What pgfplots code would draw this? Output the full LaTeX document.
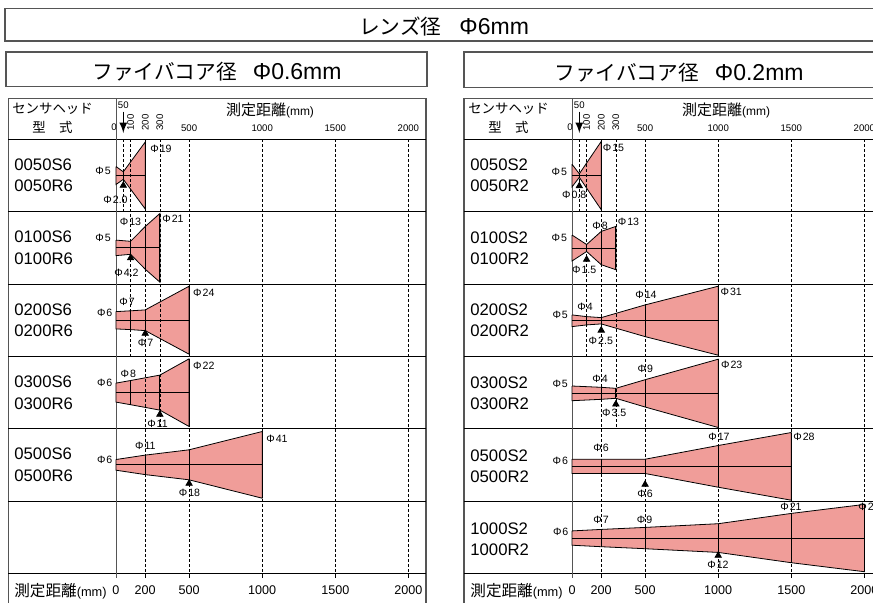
\documentclass[border=0pt]{standalone}
\usepackage{pgfplots}
\pgfplotsset{compat=1.18}
\usepackage{fontspec}
\setmainfont{Liberation Sans}
\newfontfamily\jp{Noto Sans CJK JP}
\definecolor{beam}{RGB}{240,157,153}
\definecolor{framegray}{RGB}{85,85,85}
\newcommand\fs[1]{\fontsize{#1}{#1}\selectfont}
\newcommand\phd[1]{Φ\kern0.5pt#1}

\pgfplotsset{
  panel/.style={at={(0pt,0pt)}, anchor=south west, scale only axis,
    width=436.5pt, height=301pt, ymin=0, ymax=602, y dir=reverse,
    hide axis, clip=false, enlargelimits=false},
  beamfill/.style={fill=beam, draw=black, line width=0.4pt},
  beamline/.style={black, line width=0.4pt, unbounded coords=jump},
  spot/.style={only marks, mark=triangle*, mark size=1.8pt, black},
}
\tikzset{
  gridd/.style={line width=0.35pt, dash pattern=on 1.5pt off 1pt},
  mname/.style={anchor=west, font=\fs{8.35pt}, inner sep=0pt},
  dlab/.style={font=\fs{5.3pt}, inner sep=0pt},
}

\begin{document}
\begin{tikzpicture}
\useasboundingbox (0pt,0pt) rectangle (436.5pt,301pt);
\clip (0pt,0pt) rectangle (436.5pt,301pt);

% frames, px coordinates, y downwards
\begin{scope}[shift={(0pt,301pt)}, x=0.5pt, y=-0.5pt]
  \draw[framegray, line width=0.6pt] (5,8.3) rectangle (900,41);
  \draw[framegray, line width=0.6pt] (6,52) rectangle (427,86.3);
  \draw[framegray, line width=0.6pt] (464,52) rectangle (900,87.3);
  \draw[framegray, line width=0.6pt] (8.3,98.3) rectangle (426,612);
  \draw[framegray, line width=0.6pt] (464,98.3) rectangle (900,612);
  \foreach \y in {139.3,211.7,284,356.3,428.7,501,573.3} {
    \draw[line width=0.5pt] (8.3,\y) -- (426,\y);
    \draw[line width=0.5pt] (464,\y) -- (900,\y);
  }
  \draw[framegray, line width=0.5pt] (116,98.3) -- (116,578);
  \draw[framegray, line width=0.5pt] (572,98.3) -- (572,578);
  \foreach \x in {145.2,189.1,262.2,335.3,408.4,601.2,645.1,718.2,791.3,864.4}
    \draw[line width=0.4pt] (\x,573.3) -- (\x,578);
\end{scope}

% left panel: core 0.6 mm, x in mm
\begin{axis}[panel, xmin=-793.4, xmax=5177.8]
  % 0050S6
  \addplot[beamfill] coordinates {(0,166.5) (50,171.8) (200,142) (200,209) (50,179.3) (0,184.5) (0,166.5)};
  \addplot[beamline] coordinates {(50,171.8) (50,179.3) (50,nan) (200,142) (200,209) (200,nan) (0,175.5) (200,175.5)};
  \addplot[spot] coordinates {(50,185.5)};
  % 0100S6
  \addplot[beamfill] coordinates {(0,240.1) (100,241.3) (200,226.5) (300,213.5) (300,282.1) (200,269.2) (100,254.3) (0,255.6) (0,240.1)};
  \addplot[beamline] coordinates {(100,241.3) (100,254.3) (100,nan) (200,226.5) (200,269.2) (200,nan) (300,213.5) (300,282.1) (300,nan) (0,247.8) (300,247.8)};
  \addplot[spot] coordinates {(100,258)};
  % 0200S6
  \addplot[beamfill] coordinates {(0,311.6) (100,310.8) (200,309.9) (500,286.2) (500,354.2) (200,330.6) (100,329.6) (0,328.9) (0,311.6)};
  \addplot[beamline] coordinates {(100,310.8) (100,329.6) (100,nan) (200,309.9) (200,330.6) (200,nan) (500,286.2) (500,354.2) (500,nan) (0,320.2) (500,320.2)};
  \addplot[spot] coordinates {(200,333.5)};
  % 0300S6
  \addplot[beamfill] coordinates {(0,383.1) (100,380.5) (300,375.1) (500,358.8) (500,426.5) (300,410.1) (100,404.7) (0,402.1) (0,383.1)};
  \addplot[beamline] coordinates {(100,380.5) (100,404.7) (100,nan) (300,375.1) (300,410.1) (300,nan) (500,358.8) (500,426.5) (500,nan) (0,392.6) (500,392.6)};
  \addplot[spot] coordinates {(300,414.5)};
  % 0500S6
  \addplot[beamfill] coordinates {(0,459.5) (200,455.1) (500,449.8) (1000,431.5) (1000,498.2) (500,479.8) (200,474.6) (0,470.2) (0,459.5)};
  \addplot[beamline] coordinates {(200,455.1) (200,474.6) (200,nan) (500,449.8) (500,479.8) (500,nan) (1000,431.5) (1000,498.2) (1000,nan) (0,464.8) (1000,464.8)};
  \addplot[spot] coordinates {(500,483.5)};
\end{axis}

% right panel: core 0.2 mm
\begin{axis}[panel, xmin=-3912.4, xmax=2058.8]
  % 0050S2
  \addplot[beamfill] coordinates {(0,164.2) (50,173.8) (200,141.4) (200,209.7) (50,177.3) (0,186.9) (0,164.2)};
  \addplot[beamline] coordinates {(50,173.8) (50,177.3) (50,nan) (200,141.4) (200,209.7) (200,nan) (0,175.5) (200,175.5)};
  \addplot[spot] coordinates {(50,186)};
  % 0100S2
  \addplot[beamfill] coordinates {(0,235) (100,244.5) (200,231.4) (300,226.4) (300,269.7) (200,264.7) (100,251.5) (0,261) (0,235)};
  \addplot[beamline] coordinates {(100,244.5) (100,251.5) (100,nan) (200,231.4) (200,264.7) (200,nan) (300,226.4) (300,269.7) (300,nan) (0,248) (300,248)};
  \addplot[spot] coordinates {(100,259.5)};
  % 0200S2
  \addplot[beamfill] coordinates {(0,314.9) (100,316.6) (200,317.6) (500,304.9) (1000,286.2) (1000,355.2) (500,336.6) (200,323.9) (100,324.9) (0,326.6) (0,314.9)};
  \addplot[beamline] coordinates {(100,316.6) (100,324.9) (100,nan) (200,317.6) (200,323.9) (200,nan) (500,304.9) (500,336.6) (500,nan) (1000,286.2) (1000,355.2) (1000,nan) (0,320.7) (1000,320.7)};
  \addplot[spot] coordinates {(200,330.3)};
  % 0300S2
  \addplot[beamfill] coordinates {(0,386) (200,387.3) (300,388.3) (500,379.7) (1000,359.2) (1000,427.5) (500,407) (300,398.3) (200,399.3) (0,400.7) (0,386)};
  \addplot[beamline] coordinates {(200,387.3) (200,399.3) (200,nan) (300,388.3) (300,398.3) (300,nan) (500,379.7) (500,407) (500,nan) (1000,359.2) (1000,427.5) (1000,nan) (0,393.3) (1000,393.3)};
  \addplot[spot] coordinates {(300,404.2)};
  % 0500S2
  \addplot[beamfill] coordinates {(0,459.2) (200,459.2) (500,459.2) (1000,445.5) (1500,432.5) (1500,500.2) (1000,487.2) (500,473.5) (200,473.5) (0,473.5) (0,459.2)};
  \addplot[beamline] coordinates {(200,459.2) (200,473.5) (200,nan) (500,459.2) (500,473.5) (500,nan) (1000,445.5) (1000,487.2) (1000,nan) (1500,432.5) (1500,500.2) (1500,nan) (0,466.3) (1500,466.3)};
  \addplot[spot] coordinates {(500,484.5)};
  % 1000S2
  \addplot[beamfill] coordinates {(0,530.9) (200,529.4) (500,527.4) (1000,523.7) (1500,513.4) (2000,504.4) (2000,571.7) (1500,562.7) (1000,552.4) (500,548.7) (200,546.7) (0,545.2) (0,530.9)};
  \addplot[beamline] coordinates {(200,529.4) (200,546.7) (200,nan) (500,527.4) (500,548.7) (500,nan) (1000,523.7) (1000,552.4) (1000,nan) (1500,513.4) (1500,562.7) (1500,nan) (2000,504.4) (2000,571.7) (2000,nan) (0,538) (2000,538)};
  \addplot[spot] coordinates {(1000,555.5)};
\end{axis}

% grid lines and texts
\begin{scope}[shift={(0pt,301pt)}, x=0.5pt, y=-0.5pt]
  \draw[gridd] (123.3,139.3) -- (123.3,211.7);
  \draw[gridd] (130.6,139.3) -- (130.6,356.3);
  \draw[gridd] (159.9,139.3) -- (159.9,428.7);
  \foreach \x in {145.2,189.1,262.2,335.3,408.4} \draw[gridd] (\x,139.3) -- (\x,573.3);
  \draw[gridd] (579.3,139.3) -- (579.3,211.7);
  \draw[gridd] (586.6,139.3) -- (586.6,356.3);
  \draw[gridd] (615.9,139.3) -- (615.9,428.7);
  \foreach \x in {601.2,645.1,718.2,791.3,864.4} \draw[gridd] (\x,139.3) -- (\x,573.3);

  % titles
  \node[inner sep=0pt] at (444,26.5) {\fs{10.35pt}{\jp レンズ径}\hspace{9pt}{\fs{11.5pt}Φ6mm}};
  \node[inner sep=0pt] at (217,71.5) {\fs{10.35pt}{\jp ファイバコア径}\hspace{8pt}{\fs{11.5pt}Φ0.6mm}};
  \node[inner sep=0pt] at (679,73) {\fs{10.35pt}{\jp ファイバコア径}\hspace{8pt}{\fs{11.5pt}Φ0.2mm}};

  % headers and footers of both tables
  \foreach \dx in {0,456} {
    \node[inner sep=0pt] at (52.5+\dx,109) {\fs{6.7pt}\jp センサヘッド};
    \node[inner sep=0pt] at (52.5+\dx,127.5) {\fs{6.7pt}\jp 型　式};
    \node[inner sep=0pt] at (114+\dx,127) {\fs{4.8pt}0};
    \node[inner sep=0pt] at (123.3+\dx,105.3) {\fs{4.8pt}50};
    \draw[line width=0.8pt, -latex] (123.3+\dx,111.5) -- (123.3+\dx,133);
    \node[inner sep=0pt, rotate=90] at (130.6+\dx,122.5) {\fs{4.8pt}100};
    \node[inner sep=0pt, rotate=90] at (145.2+\dx,122.5) {\fs{4.8pt}200};
    \node[inner sep=0pt, rotate=90] at (159.9+\dx,122.5) {\fs{4.8pt}300};
    \node[inner sep=0pt] at (189.1+\dx,128.5) {\fs{4.8pt}500};
    \node[inner sep=0pt] at (262.2+\dx,128.5) {\fs{4.8pt}1000};
    \node[inner sep=0pt] at (335.3+\dx,128.5) {\fs{4.8pt}1500};
    \node[inner sep=0pt] at (408.4+\dx,128.5) {\fs{4.8pt}2000};
    \node[inner sep=0pt] at (270+\dx,110) {{\fs{7.5pt}\jp 測定距離}{\fs{6pt}(mm)}};
    \node[inner sep=0pt, anchor=west] at (14+\dx,591.5) {{\fs{7.8pt}\jp 測定距離}{\fs{6.4pt}(mm)}};
    \foreach \x/\t in {116/0,145.2/200,189.1/500,262.2/1000,335.3/1500,408.4/2000}
      \node[inner sep=0pt] at (\x+\dx,590) {\fs{6.3pt}\t};
  }

  % model names
  \foreach \y/\a/\b in {175.5/0050S6/0050R6, 247.8/0100S6/0100R6, 320.2/0200S6/0200R6,
                        392.6/0300S6/0300R6, 464.8/0500S6/0500R6} {
    \node[mname] at (14,\y-10.7) {\a};
    \node[mname] at (14,\y+10.7) {\b};
  }
  \foreach \y/\a/\b in {175.5/0050S2/0050R2, 248/0100S2/0100R2, 320.7/0200S2/0200R2,
                        393.3/0300S2/0300R2, 466.3/0500S2/0500R2, 539.7/1000S2/1000R2} {
    \node[mname] at (470,\y-10.5) {\a};
    \node[mname] at (470,\y+10.5) {\b};
  }

  % diameter labels
  \foreach \x/\y/\t in {103/171/5, 161/149.3/19, 115.5/200/2.0,
      103/238.3/5, 130.5/221.7/13, 173/219/21, 126.5/273.3/4.2,
      104.7/313.3/6, 127/301.7/7, 203.8/293.3/24, 145.5/342.7/7,
      104.7/383.3/6, 128.3/374.3/8, 203.8/365.7/22, 157.5/424.3/11,
      104.7/460/6, 145.3/446/11, 277/439/41, 189.5/493.3/18,
      559.3/171.7/5, 613.5/147.7/15, 574.2/195/0.8,
      559.3/238.3/5, 600/226/8, 628.5/221.7/13, 584.2/270/1.5,
      560.2/315/5, 585/307.3/4, 646/295/14, 731.2/291.7/31, 600.8/341/2.5,
      560.2/384/5, 600/379/4, 645.3/369.3/9, 731.7/365/23, 614.2/412.7/3.5,
      560.3/460.7/6, 601/448.3/6, 719/436.7/17, 804/437.3/28, 645/494/6,
      560.7/531.7/6, 601/520/7, 644.5/520/9, 791/507.3/21, 718/565/12}
    \node[dlab] at (\x,\y) {\phd{\t}};
  \node[dlab, anchor=west] at (858,507) {\phd{29}};
\end{scope}
\end{tikzpicture}
\end{document}
